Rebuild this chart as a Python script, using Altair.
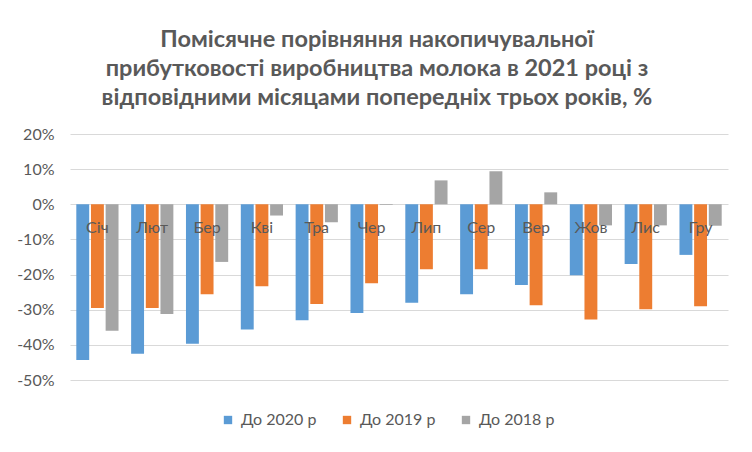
import altair as alt
import pandas as pd

months = ["Січ", "Лют", "Бер", "Кві", "Тра", "Чер", "Лип", "Сер", "Вер", "Жов", "Лис", "Гру"]
series = ["До 2020 р", "До 2019 р", "До 2018 р"]
colors = ["#5B9BD5", "#ED7D31", "#A5A5A5"]

to_2020 = [-44.3, -42.5, -39.7, -35.6, -33.0, -30.9, -28.0, -25.6, -23.0, -20.2, -17.0, -14.4]
to_2019 = [-29.5, -29.5, -25.6, -23.3, -28.4, -22.5, -18.5, -18.5, -28.7, -32.8, -29.9, -29.0]
to_2018 = [-36.0, -31.2, -16.4, -3.2, -5.1, -0.2, 6.8, 9.4, 3.4, -6.0, -6.0, -6.1]

y_ticks = [20, 10, 0, -10, -20, -30, -40, -50]

rows = []
for name, vals in zip(series, [to_2020, to_2019, to_2018]):
    for m, v in zip(months, vals):
        rows.append({"month": m, "series": name, "value": v})
df = pd.DataFrame(rows)
mdf = pd.DataFrame({"month": months, "value": [0] * len(months)})

FONT = "Lato"
TXT = "#595959"

y_axis = alt.Axis(values=y_ticks, labelExpr="datum.value + '%'", title=None,
                  domain=False, ticks=False, labelPadding=16,
                  labelOverlap=False, labelFlush=False,
                  labelFontSize=16, labelColor=TXT, labelFont=FONT,
                  gridColor="#D9D9D9", gridWidth=1.2)
y_scale = alt.Scale(domain=[-50, 20], nice=False)
x_scale = alt.Scale(paddingInner=0.23, paddingOuter=0.115)

bars = alt.Chart(df).mark_bar().encode(
    x=alt.X("month:N", sort=months, scale=x_scale, axis=None),
    xOffset=alt.XOffset("series:N", sort=series, scale=alt.Scale(paddingInner=0.12)),
    y=alt.Y("value:Q", scale=y_scale, axis=y_axis),
    color=alt.Color("series:N", sort=series,
                    scale=alt.Scale(domain=series, range=colors),
                    legend=alt.Legend(title=None, orient="none", direction="horizontal",
                                      legendX=150, legendY=278,
                                      symbolType="square", symbolSize=70,
                                      symbolStrokeWidth=0,
                                      labelFontSize=16, labelColor=TXT, labelFont=FONT,
                                      labelOffset=5, columnPadding=22)),
)

labels = alt.Chart(mdf).mark_text(dy=24, fontSize=16, color=TXT, font=FONT).encode(
    x=alt.X("month:N", sort=months, scale=x_scale, axis=None),
    y=alt.Y("value:Q", scale=y_scale, axis=y_axis),
    text="month:N",
)

chart = alt.layer(bars, labels).properties(
    width=658,
    height=246,
    autosize=alt.AutoSizeParams(type="none"),
    padding={"left": 62, "top": 126, "right": 16, "bottom": 64},
    title=alt.TitleParams(
        text=["Помісячне порівняння накопичувальної",
              "прибутковості виробництва молока в 2021 році з",
              "відповідними місяцами попередніх трьох років, %"],
        anchor="middle", fontSize=23.5, fontWeight="bold", font=FONT,
        color=TXT, lineHeight=29, offset=17, dx=-22,
    ),
).configure(background="white").configure_view(stroke=None).configure_axis(labelOverlap=False)

chart.save("out.html", embed_options={"renderer": "svg", "actions": False})
